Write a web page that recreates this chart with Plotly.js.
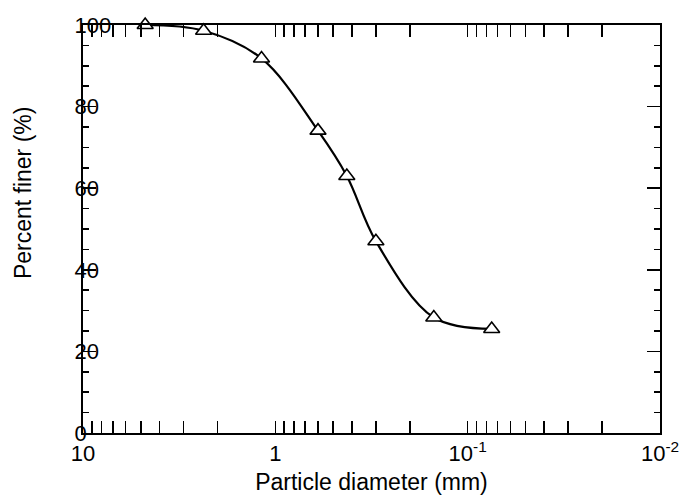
<!DOCTYPE html>
<html>
<head>
<meta charset="utf-8">
<script src="https://cdn.plot.ly/plotly-3.0.1.min.js"></script>
<style>html,body{margin:0;padding:0;background:#fff;}#chart{width:692px;height:496px;}</style>
</head>
<body>
<div id="chart"></div>
<script>
// Particle size distribution
var diameterMm = [4.75, 2.36, 1.18, 0.6, 0.425, 0.3, 0.15, 0.075];
var percentFiner = [100, 98.6, 91.8, 74.1, 63.0, 47.0, 28.3, 25.5];

// Axis tick labels
var xTickVals = [10, 1, 0.1, 0.01];
var xTickText = ["10", "1", "10<sup>-1</sup>", "10<sup>-2</sup>"];
var yTickVals = [0, 20, 40, 60, 80, 100];

// minor log ticks (2..9 in each decade)
var xMinor = [];
[1, 0.1, 0.01].forEach(function (d) {
  for (var k = 2; k <= 9; k++) xMinor.push(+(k * d).toPrecision(3));
});

var FONT = "Liberation Sans, Arial, sans-serif";

var trace = {
  x: diameterMm,
  y: percentFiner,
  type: "scatter",
  mode: "lines+markers",
  line: { shape: "spline", smoothing: 1, color: "#000", width: 2.2 },
  marker: { symbol: "triangle-up", size: 14, color: "#fff", line: { color: "#000", width: 1.6 } },
  cliponaxis: false,
  showlegend: false
};

var layout = {
  width: 692,
  height: 496,
  margin: { l: 83, r: 32, t: 25, b: 63 },
  paper_bgcolor: "#fff",
  plot_bgcolor: "#fff",
  font: { family: FONT, color: "#000", size: 22 },
  xaxis: {
    type: "log",
    range: [1, -2],
    tickmode: "array",
    tickvals: xTickVals,
    ticktext: xTickText,
    ticks: "inside",
    ticklen: 12,
    tickwidth: 1.5,
    tickcolor: "#000",
    minor: { tickmode: "array", tickvals: xMinor, ticks: "inside", ticklen: 12, tickwidth: 1.5, tickcolor: "#000", showgrid: false },
    showline: true,
    linewidth: 2,
    linecolor: "#000",
    mirror: "ticks",
    showgrid: false,
    zeroline: false,
    tickfont: { family: FONT, size: 22, color: "#000" },
    title: { text: "Particle diameter (mm)", font: { family: FONT, size: 23, color: "#000" }, standoff: 8 },
    automargin: false
  },
  yaxis: {
    range: [0, 100],
    tickmode: "array",
    tickvals: yTickVals,
    ticks: "inside",
    ticklen: 13,
    tickwidth: 1.5,
    tickcolor: "#000",
    minor: { dtick: 5, ticks: "inside", ticklen: 6, tickwidth: 1.5, tickcolor: "#000", showgrid: false },
    showline: true,
    linewidth: 2,
    linecolor: "#000",
    mirror: "ticks",
    showgrid: false,
    zeroline: false,
    ticklabelposition: "inside",
    ticklabeloverflow: "allow",
    ticklabelstandoff: -20,
    tickfont: { family: FONT, size: 22, color: "#000" },
    automargin: false
  },
  annotations: [{
    text: "Percent finer (%)",
    textangle: -90,
    xref: "paper", yref: "paper",
    x: (23 - 83) / 577, y: (432.7 - 193) / 407.7,
    xanchor: "center", yanchor: "middle",
    showarrow: false,
    font: { family: FONT, size: 23, color: "#000" }
  }]
};

Plotly.newPlot("chart", [trace], layout, { staticPlot: true, displayModeBar: false });
</script>
</body>
</html>
